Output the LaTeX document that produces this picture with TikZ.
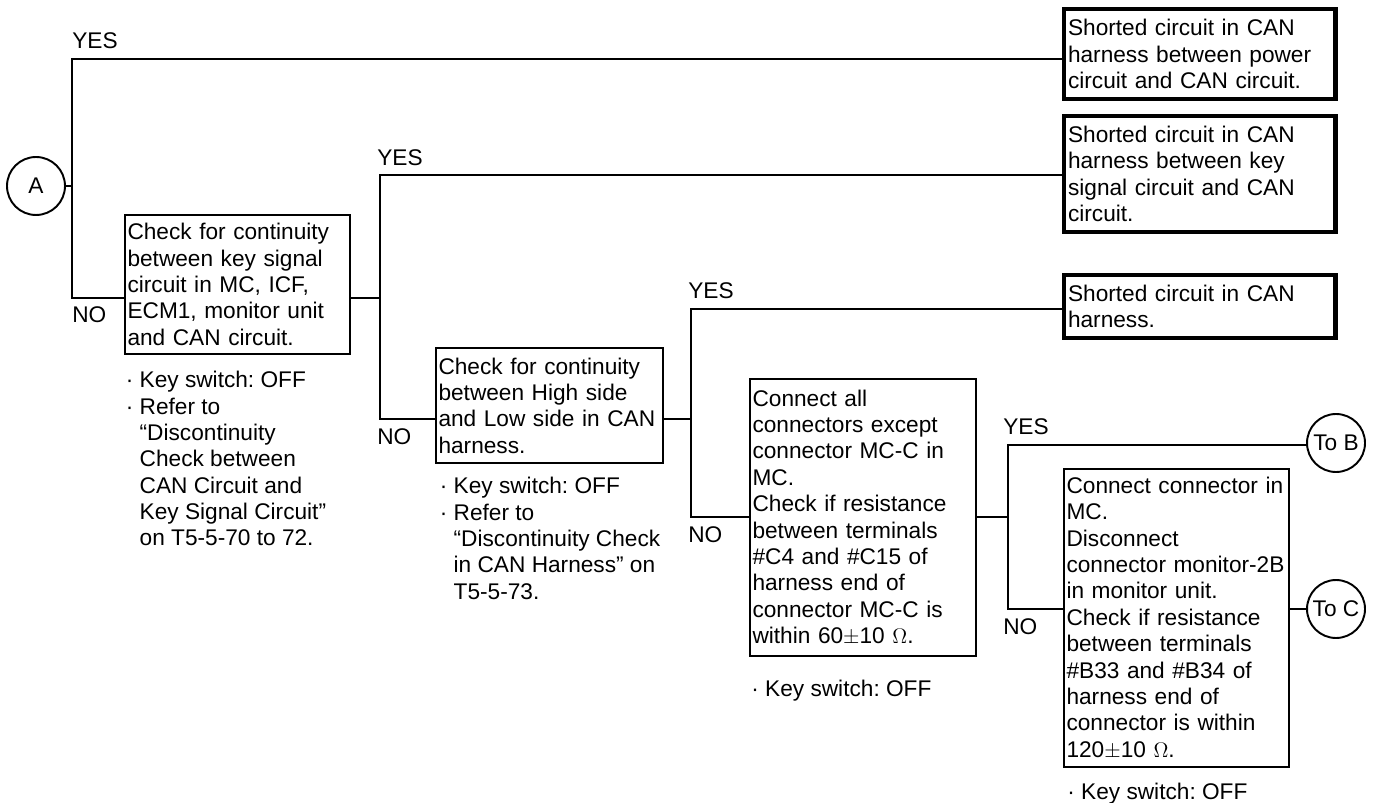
\documentclass[tikz,border=0pt]{standalone}
\usepackage{fontspec}
\setmainfont{Liberation Sans}
\frenchspacing

\newcommand{\bul}{·\ }
\newcommand{\ind}{\hphantom{·\ }}

\tikzset{
  link/.style={line width=0.95pt},
  stepbox/.style={draw, line width=1.5pt, align=left, inner xsep=0.05cm, inner ysep=0pt},
  resultbox/.style={draw, line width=2.3pt, align=left, inner xsep=0.09cm, inner ysep=0pt,
    minimum width=5.44cm, text width=5.26cm},
  conn/.style={circle, draw, line width=1.1pt, minimum size=1.16cm, inner sep=0pt},
  answer/.style={anchor=west, inner sep=0pt},
  remark/.style={anchor=north west, align=left, inner sep=0pt},
}

\begin{document}
\begin{tikzpicture}[x=0.02cm, y=-0.02cm, font=\fontsize{12.9}{15}\selectfont]
\useasboundingbox (0,0) rectangle (1385,803);

% start point and the three end results
\node[conn] (a) at (36,186) {A};
\node[resultbox, minimum height=1.8cm] (res1) at (1199.5,54)
  {Shorted circuit in CAN\\harness between power\\circuit and CAN circuit.};
\node[resultbox, minimum height=2.32cm] (res2) at (1199.5,174)
  {Shorted circuit in CAN\\harness between key\\signal circuit and CAN\\circuit.};
\node[resultbox, minimum height=1.26cm] (res3) at (1199.5,306.5)
  {Shorted circuit in CAN\\harness.};

% check steps
\node[stepbox, minimum width=4.5cm, text width=4.4cm, minimum height=2.78cm] (check1) at (237.5,284.5)
  {Check for continuity\\between key signal\\circuit in MC, ICF,\\ECM1, monitor unit\\and CAN circuit.};
\node[stepbox, minimum width=4.54cm, text width=4.44cm, minimum height=2.3cm] (check2) at (549.5,405.5)
  {Check for continuity\\between High side\\and Low side in CAN\\harness.};
\node[stepbox, minimum width=4.52cm, text width=4.42cm, minimum height=5.54cm] (check3) at (863,517.5)
  {Connect all\\connectors except\\connector MC-C in\\MC.\\Check if resistance\\between terminals\\\#C4 and \#C15 of\\harness end of\\connector MC-C is\\within 60$\pm$10 $\Omega$.};
\node[stepbox, minimum width=4.5cm, text width=4.4cm, minimum height=5.96cm] (check4) at (1176.5,618)
  {Connect connector in\\MC.\\Disconnect\\connector monitor-2B\\in monitor unit.\\Check if resistance\\between terminals\\\#B33 and \#B34 of\\harness end of\\connector is within\\120$\pm$10 $\Omega$.};

% notes under the checks
\node[remark] (rem1) at (125.5,371)
  {\bul Key switch: OFF\\\bul Refer to\\\ind “Discontinuity\\\ind Check between\\\ind CAN Circuit and\\\ind Key Signal Circuit”\\\ind on T5-5-70 to 72.};
\node[remark] (rem2) at (439.5,477)
  {\bul Key switch: OFF\\\bul Refer to\\\ind “Discontinuity Check\\\ind in CAN Harness” on\\\ind T5-5-73.};
\node[remark] (rem3) at (751,680) {\bul Key switch: OFF};
\node[remark] (rem4) at (1067,783) {\bul Key switch: OFF};

% off-page connectors
\node[conn] (tob) at (1336,443) {To B};
\node[conn] (toc) at (1336,609) {To C};

% branch points
\coordinate (ya) at (72,59);
\coordinate (na) at (72,298);
\coordinate (yb) at (380,175);
\coordinate (nb) at (380,419);
\coordinate (yc) at (691,309);
\coordinate (nc) at (691,517);
\coordinate (yd) at (1008,445);
\coordinate (nd) at (1008,609);

\draw[link] (a) -- (a -| ya);
\draw[link] (res1.west |- ya) -- (ya) -- (na) -- (check1.west |- na);
\draw[link] (check1.east |- na) -- (na -| yb);
\draw[link] (res2.west |- yb) -- (yb) -- (nb) -- (check2.west |- nb);
\draw[link] (check2.east |- nb) -- (nb -| yc);
\draw[link] (res3.west |- yc) -- (yc) -- (nc) -- (check3.west |- nc);
\draw[link] (check3.east |- nc) -- (nc -| yd);
\draw[link] (yd -| tob.west) -- (yd) -- (nd) -- (check4.west |- nd);
\draw[link] (check4.east |- nd) -- (toc);

% YES / NO labels
\node[answer] (yes1) at (72,41) {YES};
\node[answer] (no1) at (72,315) {NO};
\node[answer] (yes2) at (377,158) {YES};
\node[answer] (no2) at (377,437) {NO};
\node[answer] (yes3) at (688,291) {YES};
\node[answer] (no3) at (688,535) {NO};
\node[answer] (yes4) at (1003,427) {YES};
\node[answer] (no4) at (1003,627) {NO};
\end{tikzpicture}
\end{document}
